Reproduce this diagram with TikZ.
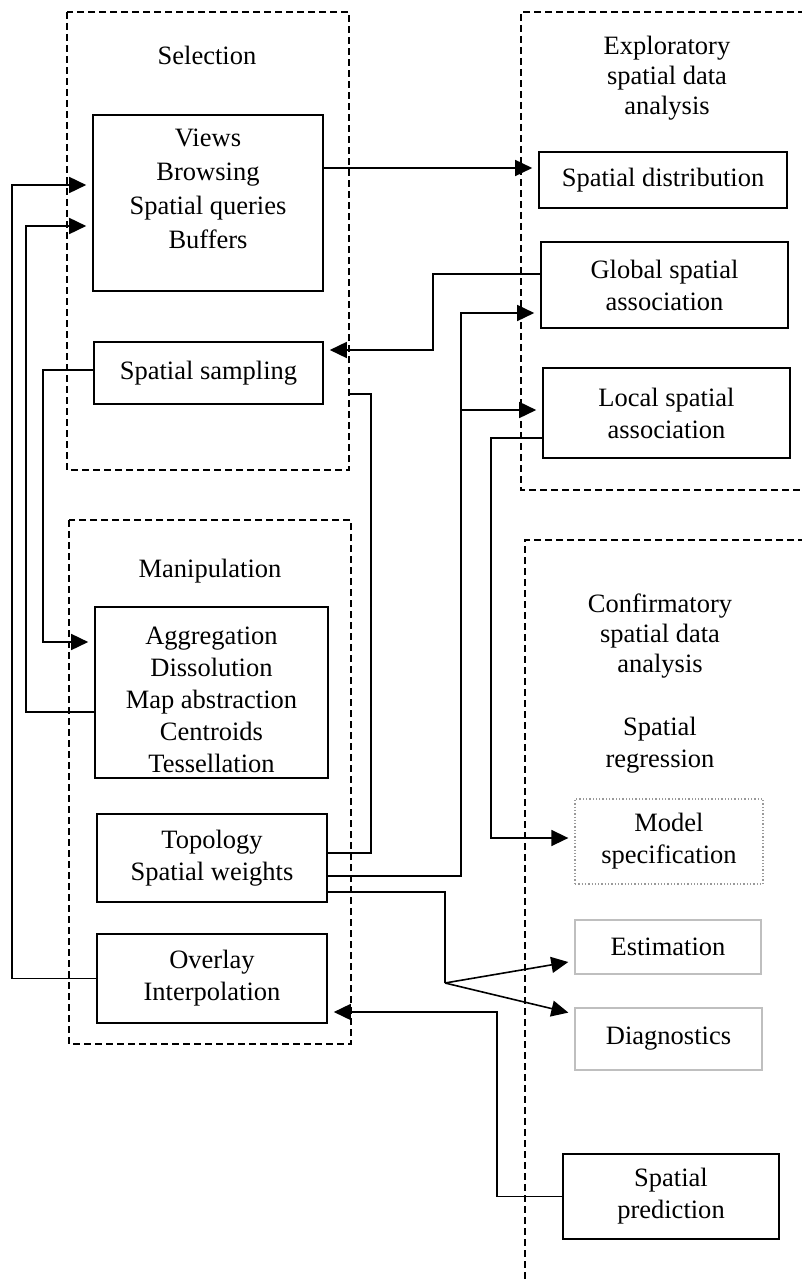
\documentclass[tikz,border=0pt]{standalone}
\usepackage{fontspec}
\setmainfont{Liberation Serif}
\usetikzlibrary{arrows.meta}
\newcommand\myfs{\fontsize{26.5}{32}\selectfont}
\begin{document}
\begin{tikzpicture}[x=1pt,y=-1pt,
  box/.style={draw=black, line width=1.6pt, inner sep=0pt, align=center, font=\myfs},
  graybox/.style={draw=black!25, line width=1.6pt, inner sep=0pt, align=center, font=\myfs},
  dotbox/.style={draw=black!40, dotted, line width=1.3pt, inner sep=0pt, align=center, font=\myfs},
  txt/.style={inner sep=0pt, align=center, font=\myfs},
  group/.style={line width=1.6pt, dash pattern=on 7pt off 4pt},
  conn/.style={line width=1.6pt},
  arr/.style={conn, -{Triangle[length=17pt,width=16pt]}, shorten >=6pt}
]
\useasboundingbox (0,0) rectangle (801,1281);

% group frames
\draw[group] (67,12) rectangle (349,470);
\draw[group] (69,520) rectangle (351,1044);
\draw[group] (805,12) -- (521,12) -- (521,490) -- (805,490);
\draw[group] (805,540) -- (525,540) -- (525,1285);

% group titles
\node[txt] (selT) at (207,55) {Selection};
\node[txt] (manT) at (210,571) {Manipulation};
\node[txt, font=\fontsize{26.5}{30}\selectfont] (expT) at (667,78) {Exploratory\\spatial data\\analysis};
\node[txt, font=\fontsize{26.5}{30}\selectfont] (confT) at (660,636) {Confirmatory\\spatial data\\analysis};
\node[txt] (regT) at (660,745) {Spatial\\regression};

% boxes
\node[box, minimum width=230pt, minimum height=176pt] (views) at (208,203) {};
\node[txt, font=\fontsize{26.5}{34}\selectfont] (viewsT) at (208,189) {Views\\Browsing\\Spatial queries\\Buffers};
\node[box, minimum width=229pt, minimum height=62pt] (samp) at (208.5,373) {Spatial sampling};
\node[box, minimum width=233pt, minimum height=171pt] (aggr) at (211.5,692.5) {};
\node[txt] (aggrT) at (211.5,700) {Aggregation\\Dissolution\\Map abstraction\\Centroids\\Tessellation};
\node[box, minimum width=230pt, minimum height=88pt] (topo) at (212,858) {Topology\\Spatial weights};
\node[box, minimum width=230pt, minimum height=89pt] (over) at (212,978.5) {Overlay\\Interpolation};

\node[box, minimum width=248pt, minimum height=56pt] (dist) at (663,180) {Spatial distribution};
\node[box, minimum width=247pt, minimum height=86pt] (glob) at (664.5,285) {Global spatial\\association};
\node[box, minimum width=247pt, minimum height=90pt] (loc) at (666.5,413) {Local spatial\\association};

\node[dotbox, minimum width=188pt, minimum height=85pt] (model) at (669,841.5) {Model\\specification};
\node[graybox, minimum width=186pt, minimum height=54pt] (est) at (668,947) {Estimation};
\node[graybox, minimum width=187pt, minimum height=62pt] (diag) at (668.5,1039) {Diagnostics};
\node[box, minimum width=216pt, minimum height=85pt] (pred) at (671,1196.5) {Spatial\\prediction};

% connectors
\draw[arr] (views.east |- 0,168) -- (dist.west |- 0,168);
\draw[arr] (over.west) -| (12,185) -- (views.west |- 0,185);
\draw[arr] (aggr.west |- 0,712) -| (26,226) -- (views.west |- 0,226);
\draw[arr] (samp.west |- 0,370) -| (43,642) -- (aggr.west |- 0,642);
\draw[arr] (glob.west |- 0,274) -| (433,350) -- (samp.east |- 0,350);
\draw[arr] (topo.east |- 0,876) -| (461,313) -- (glob.west |- 0,313);
\coordinate (branch) at (461,410);
\draw[arr] (branch) -- (loc.west |- 0,410);
\coordinate (sampout) at (349,394);
\draw[conn] (sampout) -| (371,853) -- (topo.east |- 0,853);
\draw[arr] (loc.west |- 0,438) -| (491,838) -- (model.west |- 0,838);
\coordinate (fork) at (445,983);
\draw[conn] (topo.east |- 0,892) -| (fork);
\draw[arr] (fork) -- (est.west |- 0,961);
\draw[arr] (fork) -- (diag.west |- 0,1014);
\draw[arr] (pred.west) -| (497,1012) -- (over.east |- 0,1012);
\end{tikzpicture}
\end{document}
